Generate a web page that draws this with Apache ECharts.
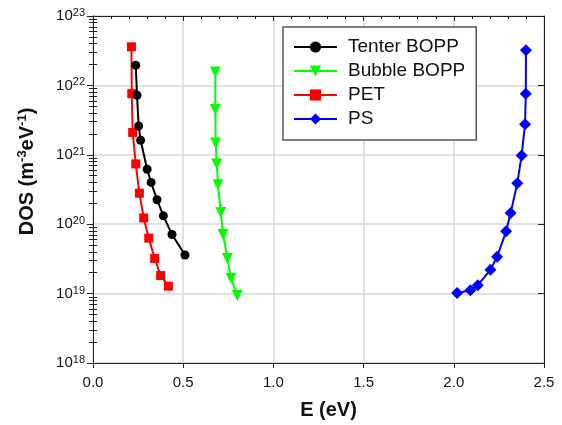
<!DOCTYPE html>
<html>
<head>
<meta charset="utf-8">
<script src="https://cdn.jsdelivr.net/npm/echarts@6/dist/echarts.min.js"></script>
<style>
  html, body { margin: 0; padding: 0; background: #fff; }
  #chart { width: 562px; height: 425px; }
</style>
</head>
<body>
<div id="chart"></div>
<script>
// Density of states vs energy for four polymer films
const seriesNames = ['Tenter BOPP', 'Bubble BOPP', 'PET', 'PS'];

const tenterE   = [0.237, 0.244, 0.253, 0.264, 0.300, 0.322, 0.355, 0.390, 0.438, 0.510];
const tenterDOS = [1.95e22, 7.2e21, 2.6e21, 1.62e21, 6.2e20, 4.0e20, 2.25e20, 1.32e20, 7.1e19, 3.6e19];

const bubbleE   = [0.678, 0.678, 0.680, 0.686, 0.693, 0.708, 0.721, 0.745, 0.765, 0.800];
const bubbleDOS = [1.56e22, 4.5e21, 1.48e21, 7.4e20, 3.7e20, 1.48e20, 7.1e19, 3.2e19, 1.66e19, 9.4e18];

const petE   = [0.213, 0.215, 0.220, 0.237, 0.257, 0.281, 0.309, 0.342, 0.375, 0.418];
const petDOS = [3.6e22, 7.6e21, 2.1e21, 7.4e20, 2.8e20, 1.23e20, 6.3e19, 3.2e19, 1.82e19, 1.28e19];

const psE   = [2.400, 2.399, 2.395, 2.376, 2.352, 2.315, 2.290, 2.240, 2.203, 2.133, 2.092, 2.018];
const psDOS = [3.2e22, 7.6e21, 2.76e21, 9.8e20, 3.9e20, 1.45e20, 7.9e19, 3.4e19, 2.2e19, 1.32e19, 1.12e19, 1.02e19];

const xTicks = [0.0, 0.5, 1.0, 1.5, 2.0, 2.5];
const yExponents = [18, 19, 20, 21, 22, 23];

const FONT = '"Liberation Sans", Arial, sans-serif';
const yMin = Math.pow(10, yExponents[0]);
const yMax = Math.pow(10, yExponents[yExponents.length - 1]);
const xStep = xTicks[1] - xTicks[0];

// minor log ticks: 2..9 x 10^n
const minorVals = [];
for (let e = yExponents[0]; e < yExponents[yExponents.length - 1]; e++) {
  for (let m = 2; m <= 9; m++) minorVals.push(m * Math.pow(10, e));
}
const majorVals = yExponents.map(e => Math.pow(10, e));

function pairs(xs, ys) { return xs.map((x, i) => [x, ys[i]]); }

const chart = echarts.init(document.getElementById('chart'), null, { renderer: 'canvas' });

const axisLineStyle = { color: '#222', width: 1 };
const hiddenLabel = { show: false };

const supRich = {
  b: { fontFamily: FONT, fontSize: 15, color: '#111', lineHeight: 16 },
  s: { fontFamily: FONT, fontSize: 11, color: '#111', verticalAlign: 'top', padding: [0, 0, 6, 0] }
};

const option = {
  animation: false,
  backgroundColor: '#fff',
  textStyle: { fontFamily: FONT },
  grid: { left: 93, right: 18, top: 16, bottom: 57, containLabel: false },
  legend: {
    orient: 'vertical',
    left: 283,
    top: 27,
    data: seriesNames,
    itemWidth: 43,
    itemHeight: 14,
    itemGap: 4,
    padding: [10, 11, 11, 10],
    backgroundColor: '#fff',
    borderColor: '#555',
    borderWidth: 1.5,
    textStyle: { fontFamily: FONT, fontSize: 19, color: '#111', lineHeight: 20, padding: [0, 0, 0, 6] }
  },
  xAxis: [
    {
      type: 'value', position: 'bottom', min: xTicks[0], max: xTicks[xTicks.length - 1], interval: xStep,
      axisLine: { show: true, onZero: false, lineStyle: axisLineStyle },
      axisTick: { show: true, inside: false, length: 5, lineStyle: axisLineStyle },
      axisLabel: { fontFamily: FONT, fontSize: 15, color: '#111', margin: 12,
                   formatter: v => v.toFixed(1) },
      splitLine: { show: true, lineStyle: { color: '#d9d9d9', width: 1.5 } },
      name: 'E (eV)', nameLocation: 'middle', nameGap: 37,
      nameTextStyle: { fontFamily: FONT, fontSize: 20, fontWeight: 'bold', color: '#111', padding: [0, 0, 0, 20] }
    },
    {
      type: 'value', position: 'top', min: xTicks[0], max: xTicks[xTicks.length - 1], interval: xStep,
      axisLine: { show: true, onZero: false, lineStyle: axisLineStyle },
      axisTick: { show: true, inside: true, length: 5, lineStyle: axisLineStyle },
      minorTick: { show: true, splitNumber: 5, length: 3, lineStyle: axisLineStyle },
      axisLabel: hiddenLabel,
      splitLine: { show: false }
    }
  ],
  yAxis: [
    {
      type: 'log', logBase: 10, position: 'left', min: yMin, max: yMax,
      axisLine: { show: true, onZero: false, lineStyle: axisLineStyle },
      axisTick: { show: true, inside: false, length: 6, lineStyle: axisLineStyle },
      axisLabel: {
        margin: 8,
        formatter: v => '{b|10}{s|' + Math.round(Math.log10(v)) + '}',
        rich: supRich
      },
      splitLine: { show: true, lineStyle: { color: '#d9d9d9', width: 1.5 } },
      name: '{b|DOS (m}{s|-3}{b|eV}{s|-1}{b|)}',
      nameLocation: 'middle', nameGap: 55, nameRotate: 90,
      nameTextStyle: {
        padding: [0, 0, 0, 36],
        rich: {
          b: { fontFamily: FONT, fontSize: 20, fontWeight: 'bold', color: '#111', lineHeight: 22 },
          s: { fontFamily: FONT, fontSize: 13, fontWeight: 'bold', color: '#111', verticalAlign: 'top', padding: [0, 0, 8, 0] }
        }
      }
    },
    {
      type: 'log', logBase: 10, position: 'left', min: yMin, max: yMax,
      axisLine: { show: false },
      axisTick: { show: true, inside: true, length: 4, customValues: minorVals, lineStyle: axisLineStyle },
      axisLabel: hiddenLabel,
      splitLine: { show: false }
    },
    {
      type: 'log', logBase: 10, position: 'right', min: yMin, max: yMax,
      axisLine: { show: true, onZero: false, lineStyle: axisLineStyle },
      axisTick: { show: true, inside: true, length: 6, customValues: majorVals, lineStyle: axisLineStyle },
      axisLabel: hiddenLabel,
      splitLine: { show: false }
    },
    {
      type: 'log', logBase: 10, position: 'right', min: yMin, max: yMax,
      axisLine: { show: false },
      axisTick: { show: true, inside: true, length: 4, customValues: minorVals, lineStyle: axisLineStyle },
      axisLabel: hiddenLabel,
      splitLine: { show: false }
    }
  ],
  series: [
    {
      name: seriesNames[0], type: 'line', data: pairs(tenterE, tenterDOS),
      color: '#000000', lineStyle: { width: 2, color: '#000000' },
      symbol: 'circle', symbolSize: 9, itemStyle: { color: '#000000' }, z: 4
    },
    {
      name: seriesNames[1], type: 'line', data: pairs(bubbleE, bubbleDOS),
      color: '#00ff00', lineStyle: { width: 2, color: '#00ff00' },
      symbol: 'triangle', symbolRotate: 180, symbolSize: 11, itemStyle: { color: '#00ff00' }, z: 3
    },
    {
      name: seriesNames[2], type: 'line', data: pairs(petE, petDOS),
      color: '#ff0000', lineStyle: { width: 2, color: '#ff0000' },
      symbol: 'rect', symbolSize: 9, itemStyle: { color: '#ff0000' }, z: 3
    },
    {
      name: seriesNames[3], type: 'line', data: pairs(psE, psDOS),
      color: '#0000ff', lineStyle: { width: 2, color: '#0000ff' },
      symbol: 'diamond', symbolSize: 12, itemStyle: { color: '#0000ff' }, z: 3
    }
  ]
};

chart.setOption(option);
</script>
</body>
</html>
